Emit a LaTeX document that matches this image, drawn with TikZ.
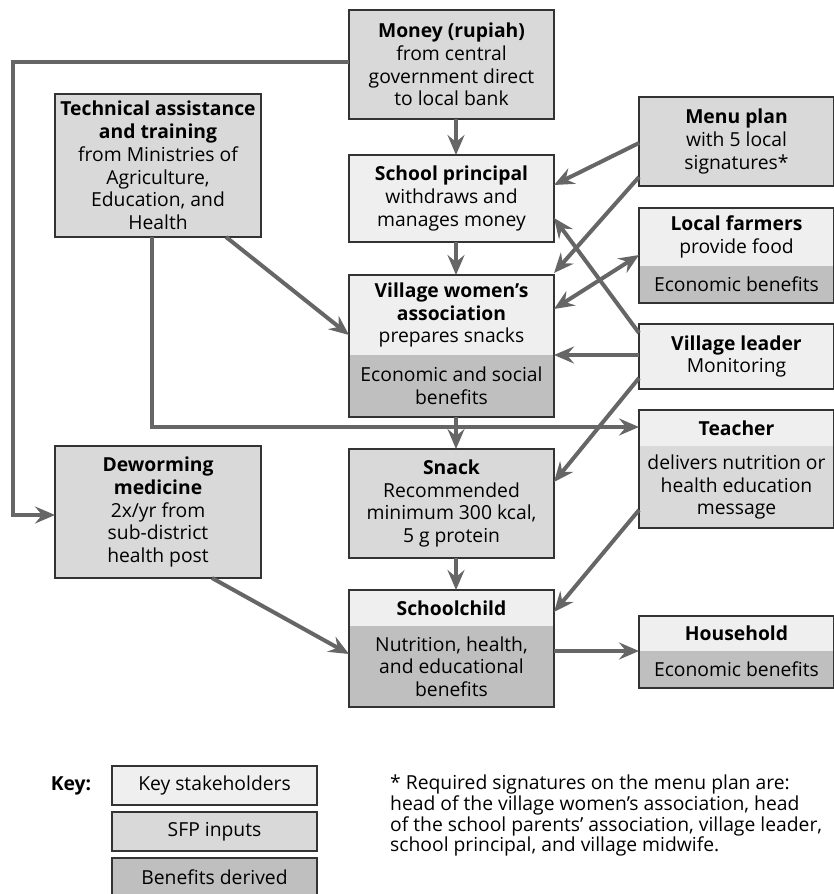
\documentclass[tikz,border=0pt]{standalone}
\usepackage{fontspec}
\setmainfont{Open Sans}
\usetikzlibrary{arrows.meta,fit}
\definecolor{stk}{HTML}{EFEFEF}
\definecolor{sfp}{HTML}{D9D9D9}
\definecolor{ben}{HTML}{BFBFBF}
\definecolor{arrc}{HTML}{666666}
\definecolor{bord}{HTML}{333333}
\newcommand\fsz{\fontsize{19.3}{22.7}\selectfont}
\newcommand\fnsz{\fontsize{19.3}{20.7}\selectfont}
\begin{document}
\begin{tikzpicture}[x=1pt,y=-1pt,
  box/.style={draw=bord,line width=1.5pt,align=center,inner sep=0pt,outer sep=0pt,font=\fsz},
  part/.style={align=center,inner sep=0pt,outer sep=0pt,font=\fsz},
  outline/.style={draw=bord,line width=1.5pt,inner sep=0pt,outer sep=0pt},
  tipa/.tip={Stealth[length=20pt,width=17pt,inset=7pt]},
  arr/.style={draw=arrc,line width=4pt,-tipa},
  darr/.style={draw=arrc,line width=4pt,tipa-tipa},
]
\useasboundingbox (0,0) rectangle (834,894);

% left/center column
\node[box,fill=sfp,minimum width=205pt,minimum height=109pt] (money) at (451.5,64.5)
  {\textbf{Money (rupiah)}\\from central\\government direct\\to local bank};
\node[box,fill=sfp,minimum width=206pt,minimum height=143pt] (tech) at (158,165.5)
  {\textbf{Technical assistance}\\\textbf{and training}\\from Ministries of\\Agriculture,\\Education, and\\Health};
\node[box,fill=stk,minimum width=205pt,minimum height=87pt] (sp) at (451.5,198.5)
  {\textbf{School principal}\\withdraws and\\manages money};
\node[part,fill=stk,minimum width=205pt,minimum height=80pt] (vwT) at (451.5,315)
  {\textbf{Village women’s}\\\textbf{association}\\prepares snacks};
\node[part,fill=ben,minimum width=205pt,minimum height=62pt] (vwB) at (451.5,386)
  {Economic and social\\benefits};
\node[outline,fit=(vwT)(vwB)] (vw) {};
\node[box,fill=sfp,minimum width=205pt,minimum height=109pt] (snack) at (451.5,503.5)
  {\textbf{Snack}\\Recommended\\minimum 300 kcal,\\5 g protein};
\node[part,fill=stk,minimum width=205pt,minimum height=36pt] (scT) at (451.5,608)
  {\textbf{Schoolchild}};
\node[part,fill=ben,minimum width=205pt,minimum height=81pt] (scB) at (451.5,666.5)
  {Nutrition, health,\\and educational\\benefits};
\node[outline,fit=(scT)(scB)] (sc) {};
\node[box,fill=sfp,minimum width=206pt,minimum height=132pt] (dw) at (158,512)
  {\textbf{Deworming}\\\textbf{medicine}\\2x/yr from\\sub-district\\health post};

% right column
\node[box,fill=sfp,minimum width=195pt,minimum height=89pt] (mp) at (736.5,141.5)
  {\textbf{Menu plan}\\with 5 local\\signatures*};
\node[part,fill=stk,minimum width=195pt,minimum height=58pt] (lfT) at (736.5,237)
  {\textbf{Local farmers}\\provide food};
\node[part,fill=ben,minimum width=195pt,minimum height=37pt] (lfB) at (736.5,284.5)
  {Economic benefits};
\node[outline,fit=(lfT)(lfB)] (lf) {};
\node[box,fill=stk,minimum width=195pt,minimum height=65pt] (vl) at (736.5,356.5)
  {\textbf{Village leader}\\Monitoring};
\node[part,fill=stk,minimum width=195pt,minimum height=36pt] (teT) at (736.5,428)
  {\textbf{Teacher}};
\node[part,fill=sfp,minimum width=195pt,minimum height=82pt] (teB) at (736.5,487)
  {delivers nutrition or\\health education\\message};
\node[outline,fit=(teT)(teB)] (teacher) {};
\node[part,fill=stk,minimum width=195pt,minimum height=35pt] (hhT) at (736.5,633.5)
  {\textbf{Household}};
\node[part,fill=ben,minimum width=195pt,minimum height=37pt] (hhB) at (736.5,669.5)
  {Economic benefits};
\node[outline,fit=(hhT)(hhB)] (hh) {};

% connectors
\coordinate (vx) at (456,0);
\draw[arr] (money.south -| vx) -- (sp.north -| vx);
\draw[arr] (sp.south -| vx) -- (vw.north -| vx);
\draw[arr] (vw.south -| vx) -- (snack.north -| vx);
\draw[arr] (snack.south -| vx) -- (sc.north -| vx);
\draw[arr] (tech.south -| 226,0) -- (vw.west |- 0,335);
\draw[arr] (tech.south -| 152,0) |- (teacher.west |- 0,427);
\draw[arr] (money.west |- 0,62) -| (13,300) |- (dw.west |- 0,515);
\draw[arr] (dw.south -| 212,0) -- (sc.west |- 0,654);
\draw[arr] (mp.west |- 0,143) -- (sp.east |- 0,185);
\draw[arr] (mp.west |- 0,177) -- (vw.east |- 0,273);
\draw[darr] (vw.east |- 0,309) -- (lf.west |- 0,255);
\draw[arr] (vl.west |- 0,333) -- (sp.east |- 0,218);
\draw[arr] (vl.west |- 0,355) -- (vw.east |- 0,355);
\draw[arr] (vl.west |- 0,378) -- (snack.east |- 0,482);
\draw[arr] (teacher.west |- 0,510) -- (sc.east |- 0,612);
\draw[arr] (sc.east |- 0,651) -- (hh.west |- 0,651);

% key
\node[font=\fsz\bfseries] (keylab) at (71,786) {Key:};
\node[box,fill=stk,minimum width=205pt,minimum height=39pt] (k1) at (214.5,785.5) {Key stakeholders};
\node[box,fill=sfp,minimum width=205pt,minimum height=39pt] (k2) at (214.5,831.5) {SFP inputs};
\node[box,fill=ben,minimum width=205pt,minimum height=39pt] (k3) at (214.5,877.5) {Benefits derived};
\node[anchor=north west,align=left,inner sep=0pt,font=\fnsz] (note) at (390,775)
  {* Required signatures on the menu plan are:\\head of the village women’s association, head\\of the school parents’ association, village leader,\\school principal, and village midwife.};
\end{tikzpicture}
\end{document}
